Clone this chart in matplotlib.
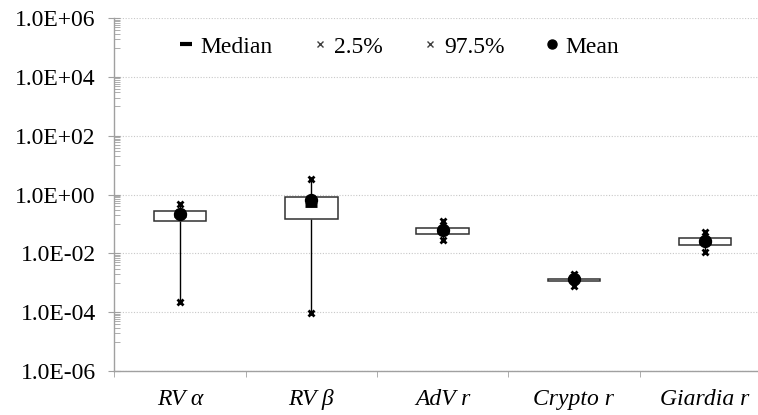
import matplotlib
matplotlib.use("Agg")
from matplotlib import pyplot as plt
from matplotlib.lines import Line2D
import matplotlib.ticker as mticker

plt.rcParams['font.family'] = ['Liberation Serif', 'DejaVu Serif']

categories = ['RV α', 'RV β', 'AdV r', 'Crypto r', 'Giardia r']
box_low = [0.131, 0.153, 0.045, 1.13e-3, 0.019]
box_high = [0.272, 0.855, 0.072, 1.39e-3, 0.033]
p2_5 = [2.3e-4, 9.7e-5, 0.029, 7.9e-4, 0.0115]
p97_5 = [0.47, 3.4, 0.13, 2.06e-3, 0.055]
means = [0.215, 0.66, 0.063, 1.32e-3, 0.0266]
medians = [0.2, 0.45, 0.06, 1.3e-3, 0.025]

axcol = '#a0a0a0'
fs = 17

fig = plt.figure(figsize=(7.58, 4.15), dpi=100)
ax = fig.add_axes([114.3/758, 1 - 371/415, (770.8 - 114.3)/758, (371 - 18.3)/415])
ax.set_yscale('log')
ax.set_ylim(1e-6, 1e6)
ax.set_xlim(-0.5, len(categories) - 0.5)

x = list(range(len(categories)))
heights = [h - l for h, l in zip(box_high, box_low)]

# whiskers from box edges out to the 2.5% / 97.5% points
ax.vlines(x, p2_5, box_low, color='black', lw=1, zorder=2)
ax.vlines(x, box_high, p97_5, color='black', lw=1, zorder=2)
ax.bar(x, heights, bottom=box_low, width=0.4, color='white',
       edgecolor='#303030', lw=1.1, zorder=3)
ax.plot(x, p2_5, ls='', marker='x', ms=5, mew=2, color='black', zorder=4)
ax.plot(x, p97_5, ls='', marker='x', ms=5, mew=2, color='black', zorder=4)
ax.plot(x, medians, ls='', marker='_', ms=9, mew=3.5, color='black', zorder=5)
ax.plot(x, means, ls='', marker='o', ms=8.6, color='black', zorder=6)

# y axis: excel-like log ticks
ax.yaxis.set_major_locator(mticker.FixedLocator([10.0**e for e in range(-6, 7, 2)]))
ax.yaxis.set_minor_locator(mticker.FixedLocator(
    [k * 10.0**e for e in range(-5, 6, 2) for k in range(1, 10)]))
ax.yaxis.set_major_formatter(mticker.FuncFormatter(lambda v, p: '%.1E' % v))
ax.yaxis.set_minor_formatter(mticker.NullFormatter())
ax.tick_params(axis='y', which='major', direction='inout', length=8.6,
               color=axcol, labelsize=fs, pad=9)
ax.tick_params(axis='y', which='minor', direction='in', length=4.5, color=axcol)

# x axis: labels at centres, ticks on category borders
ax.set_xticks(x)
ax.set_xticklabels(categories, fontstyle='italic', fontsize=fs)
ax.set_xticks([i - 0.5 for i in range(len(categories) + 1)], minor=True)
ax.tick_params(axis='x', which='major', length=0, pad=13)
ax.tick_params(axis='x', which='minor', direction='out', length=4.5, color=axcol)

ax.yaxis.grid(True, which='major', ls=(0, (1, 1.5)), color='#c8c8c8', lw=0.8)
ax.set_axisbelow(True)
for s in ['top', 'right']:
    ax.spines[s].set_visible(False)
for s in ['left', 'bottom']:
    ax.spines[s].set_color(axcol)
    ax.spines[s].set_linewidth(1)

handles = [
    Line2D([], [], ls='', marker='_', ms=8, mew=3, color='black'),
    Line2D([], [], ls='', marker='x', ms=4, mew=1, color='#404040'),
    Line2D([], [], ls='', marker='x', ms=4, mew=1, color='#404040'),
    Line2D([], [], ls='', marker='o', ms=6.5, color='black'),
]
ax.legend(handles, ['Median', '2.5%', '97.5%', 'Mean'], ncol=4, frameon=False,
          loc='center', bbox_to_anchor=(0.434, 0.919), fontsize=fs,
          handlelength=0.6, handletextpad=0.3, columnspacing=1.7)

fig.savefig('out.png', dpi=100)
